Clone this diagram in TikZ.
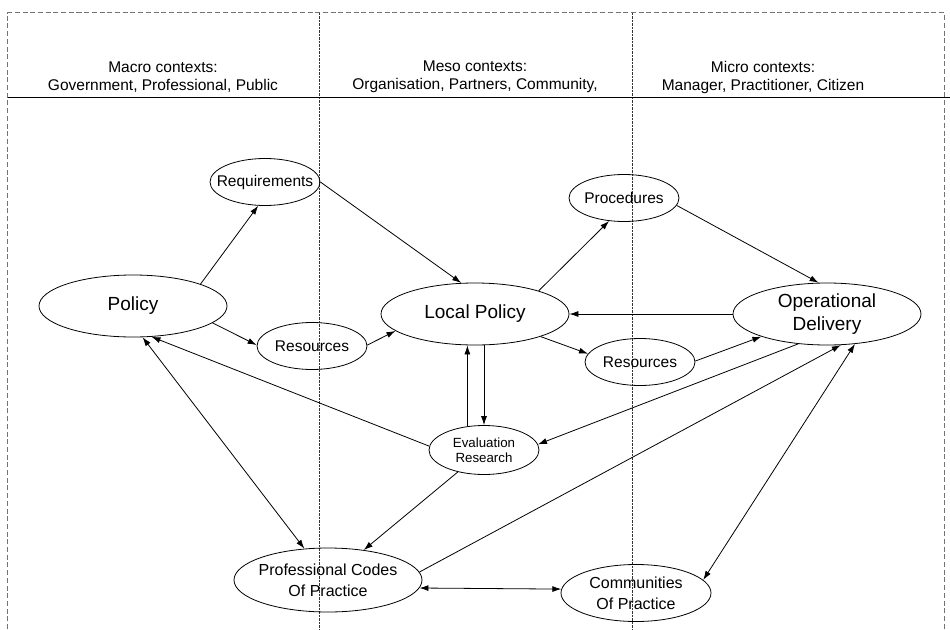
\documentclass[tikz,border=0pt]{standalone}
\usepackage{fontspec}
\setmainfont{Liberation Sans}
\usetikzlibrary{arrows.meta}
\usetikzlibrary{shapes.geometric}

\begin{document}
\begin{tikzpicture}[x=1pt, y=-1pt, >={Latex[length=9pt,width=6pt]},
        oval/.style 2 args={ellipse, draw, line width=0.8pt, inner sep=0pt, minimum width=#1, minimum height=#2},
        bigtext/.style={align=center, font=\fontsize{19}{23}\selectfont},
        midtext/.style={align=center, font=\fontsize{16}{21}\selectfont},
        smalltext/.style={align=center, font=\fontsize{15.5}{19}\selectfont},
        evaltext/.style={align=center, font=\fontsize{13.3}{14.5}\selectfont},
        headtext/.style={align=center, inner sep=0pt, font=\fontsize{15.5}{18}\selectfont},
        frame/.style={black!55, line width=0.7pt, dash pattern=on 5pt off 2.7pt},
        divider/.style={black!80, line width=0.7pt, dash pattern=on 2.5pt off 1pt},
        link/.style={line width=0.8pt}]
        \useasboundingbox (0,0) rectangle (950,629);
        \draw[frame] (7.5,629) -- (7.5,12.7) -- (944,12.7) -- (944,629);
        \draw[divider] (319,12.7) -- (319,629);
        \draw[divider] (632,12.7) -- (632,629);
        \draw[line width=0.8pt] (7.5,97) -- (950,97);
        \node[headtext] (macro) at (163,77) {Macro contexts:\\Government, Professional, Public};
        \node[headtext] (meso) at (475,77) {Meso contexts:\\Organisation, Partners, Community,};
        \node[headtext] (micro) at (763,77) {Micro contexts:\\Manager, Practitioner, Citizen};

        \node[oval={188pt}{62pt}, label={[bigtext]center:Policy}] (policy) at (133,306) {};
        \node[oval={110pt}{47pt}, label={[smalltext]center:Requirements}] (req) at (265,182) {};
        \node[oval={110pt}{47pt}, label={[smalltext]center:Resources}] (resl) at (312,346) {};
        \node[oval={188pt}{62pt}, label={[bigtext]center:Local Policy}] (local) at (475,314) {};
        \node[oval={110pt}{47pt}, label={[smalltext]center:Procedures}] (proc) at (624,198) {};
        \node[oval={188pt}{62pt}, label={[bigtext]center:{Operational\\Delivery}}] (opdel) at (827,314) {};
        \node[oval={110pt}{47pt}, label={[smalltext]center:Resources}] (resr) at (640,362) {};
        \node[oval={110pt}{49pt}, label={[evaltext]center:{Evaluation\\Research}}] (eval) at (484,450) {};
        \node[oval={188pt}{64pt}, label={[midtext]center:{Professional Codes\\Of Practice}}] (prof) at (328,580) {};
        \node[oval={150pt}{57pt}, label={[midtext]center:{Communities\\Of Practice}}] (comm) at (636,593) {};

        \draw[link,->] (policy.18) -- (req.254);
        \draw[link,->] (req.0) -- (local.114);
        \draw[link,->] (policy.-12) -- (resl.179);
        \draw[link,->] (resl.1) -- (local.192);
        \draw[link,->] (local.20) -- (proc.237);
        \draw[link,->] (proc.-8) -- (opdel.105);
        \draw[link,->] (opdel.west) -- (local.east);
        \draw[link,->] (local.-19) -- (resr.171);
        \draw[link,->] (resr.1) -- (opdel.199);
        \draw[link,->] (eval.125) -- (eval.125 |- local.south);
        \draw[link,->] (eval.north |- local.south) -- (eval.north);
        \draw[link,->] (eval.176) -- (policy.301);
        \draw[link,<->] (policy.287) -- (prof.127);
        \draw[link,->] (eval.220) -- (prof.40);
        \draw[link,->] (opdel.226) -- (eval.6);
        \draw[link,->] (prof.5) -- (opdel.294);
        \draw[link,<->] (comm.11) -- (opdel.313);
        \draw[link,<->] (prof.-5) -- (comm.177);
    \end{tikzpicture}
\end{document}
